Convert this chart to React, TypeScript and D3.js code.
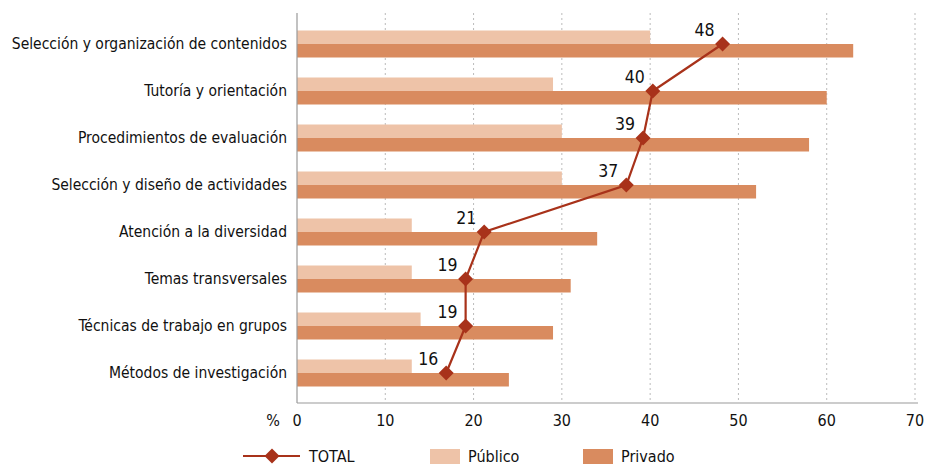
import React from "react";
import * as d3 from "d3";

const categories = [
  "Selección y organización de contenidos",
  "Tutoría y orientación",
  "Procedimientos de evaluación",
  "Selección y diseño de actividades",
  "Atención a la diversidad",
  "Temas transversales",
  "Técnicas de trabajo en grupos",
  "Métodos de investigación",
];
const publico = [40, 29, 30, 30, 13, 13, 14, 13];
const privado = [63, 60, 58, 52, 34, 31, 29, 24];
const total = [48.2, 40.3, 39.2, 37.3, 21.2, 19.1, 19.1, 16.9];
const totalLabels = ["48", "40", "39", "37", "21", "19", "19", "16"];
const xTicks = [0, 10, 20, 30, 40, 50, 60, 70];

const W = 926;
const H = 466;
const plotLeft = 297;
const plotRight = 915;
const plotTop = 13;
const plotBottom = 403;

const cPub = "#eec3a8";
const cPriv = "#d98b5f";
const cTot = "#a8321a";
const font = "'Liberation Sans Narrow', 'DejaVu Sans Condensed', 'Open Sans', sans-serif";

function diamond(cx: number, cy: number, r: number) {
  return `M${cx},${cy - r}L${cx + r},${cy}L${cx},${cy + r}L${cx - r},${cy}Z`;
}

export default function App() {
  const x = d3.scaleLinear().domain([0, 70]).range([plotLeft, plotRight]);
  const y = d3.scaleBand<string>().domain(categories).range([20.5, 396.5]);
  const mid = (c: string) => (y(c) as number) + y.bandwidth() / 2;
  const barH = 13.5;

  const line = d3
    .line<number>()
    .x((d) => x(d))
    .y((_, i) => mid(categories[i]));

  return (
    <svg width={W} height={H} style={{ position: "absolute", left: 0, top: 0 }}>
      <rect width={W} height={H} fill="#fff" />
      {xTicks.slice(1).map((t) => (
        <line
          key={t}
          x1={x(t)}
          x2={x(t)}
          y1={plotTop}
          y2={plotBottom}
          stroke="#bbb"
          strokeWidth={1}
          strokeDasharray="2,3"
        />
      ))}
      {categories.map((c, i) => (
        <g key={c}>
          <rect x={x(0)} y={mid(c) - barH} width={x(publico[i]) - x(0)} height={barH} fill={cPub} />
          <rect x={x(0)} y={mid(c)} width={x(privado[i]) - x(0)} height={barH} fill={cPriv} />
          <text
            x={287}
            y={mid(c)}
            textAnchor="end"
            dominantBaseline="central"
            fontFamily={font}
            fontSize={15.5}
            fill="#111"
          >
            {c}
          </text>
        </g>
      ))}
      <line x1={plotLeft} x2={plotLeft} y1={plotTop} y2={plotBottom} stroke="#999" strokeWidth={1.2} />
      <line x1={plotLeft} x2={plotRight + 3} y1={plotBottom} y2={plotBottom} stroke="#999" strokeWidth={1.2} />
      {xTicks.map((t) => (
        <text
          key={t}
          x={x(t)}
          y={420}
          textAnchor="middle"
          dominantBaseline="central"
          fontFamily={font}
          fontSize={16}
          fill="#111"
        >
          {t}
        </text>
      ))}
      <text x={273} y={420} textAnchor="middle" dominantBaseline="central" fontFamily={font} fontSize={16} fill="#111">
        %
      </text>
      <path d={line(total) || ""} fill="none" stroke={cTot} strokeWidth={2.2} />
      {total.map((v, i) => (
        <g key={i}>
          <path d={diamond(x(v), mid(categories[i]), 7.5)} fill={cTot} />
          <text
            x={x(v) - 18}
            y={mid(categories[i]) - 8}
            textAnchor="middle"
            fontFamily={font}
            fontSize={17.5}
            fill="#111"
          >
            {totalLabels[i]}
          </text>
        </g>
      ))}
      {/* legend */}
      <g fontFamily={font} fontSize={16} fill="#111">
        <line x1={243} x2={300} y1={456} y2={456} stroke={cTot} strokeWidth={2.2} />
        <path d={diamond(272, 456, 7.5)} fill={cTot} />
        <text x={309} y={456} dominantBaseline="central">TOTAL</text>
        <rect x={430} y={449} width={30} height={15} fill={cPub} />
        <text x={468} y={456} dominantBaseline="central">Público</text>
        <rect x={583} y={449} width={30} height={15} fill={cPriv} />
        <text x={621} y={456} dominantBaseline="central">Privado</text>
      </g>
    </svg>
  );
}
